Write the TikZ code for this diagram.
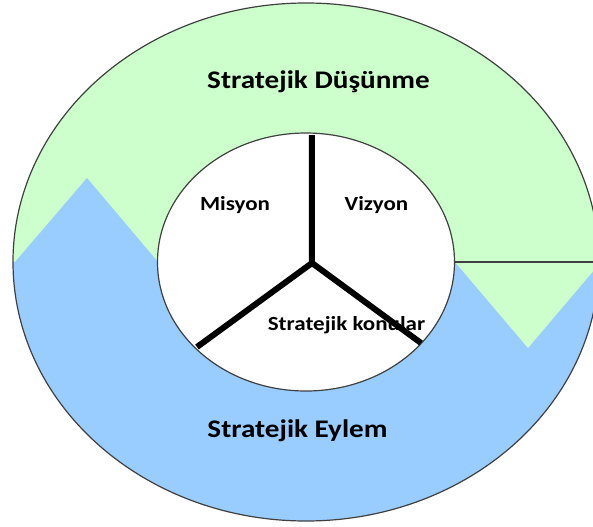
\documentclass[tikz,border=0pt]{standalone}
\usepackage{fontspec}
\setmainfont{Carlito}
\usetikzlibrary{positioning,calc}
\definecolor{thinkgreen}{HTML}{CCFFCC}
\definecolor{actblue}{HTML}{99CCFF}
\definecolor{rim}{HTML}{404040}

\begin{document}
\begin{tikzpicture}[x=0.75pt, y=0.75pt,
  rimline/.style={draw=rim, line width=0.9pt},
  spoke/.style={line width=4.5pt},
  bigtxt/.style={font=\bfseries\fontsize{19}{22}\selectfont, xscale=1.15, anchor=base, inner sep=0pt},
  smalltxt/.style={font=\bfseries\fontsize{15}{18}\selectfont, xscale=1.15, anchor=base, inner sep=0pt}]
\useasboundingbox (-306,-264) rectangle (287,262);
\clip (-306,-264) rectangle (287,262);
% outer ring: thinking on top, action below
\fill[thinkgreen] (-293,0) arc[start angle=180, end angle=0, x radius=293, y radius=259] -- cycle;
\fill[actblue] (-293,0) arc[start angle=180, end angle=360, x radius=293, y radius=259] -- cycle;
\fill[actblue] (-291,0) -- (-219,84) -- (-148,0) -- cycle;
\fill[thinkgreen] (149,0) -- (222,-86) -- (295,0) -- cycle;
\draw[rimline] (0,0) ellipse (293 and 259);
\draw[rimline] (148,0) -- (293,0);
% inner disc
\draw[rimline, fill=white] (0,0) ellipse (148.5 and 129);
% labels
\node[bigtxt] (dusunme) at (12.5,173.5) {Stratejik Düşünme};
\node[bigtxt] (eylem) at (-8.5,-175) {Stratejik Eylem};
\node[smalltxt] (misyon) at (-71,52) {Misyon};
\node[smalltxt] (vizyon) at (70.5,52) {Vizyon};
\node[smalltxt] (konular) at (40.5,-68) {Stratejik konular};
% three spokes
\coordinate (hub) at (6,-1);
\coordinate (tipT) at (6,127);
\coordinate (tipL) at (-109,-85);
\coordinate (tipR) at (115,-81);
\draw[spoke] (tipT) -- (hub) -- (tipL);
\draw[spoke] (hub) -- (tipR);
\end{tikzpicture}
\end{document}
